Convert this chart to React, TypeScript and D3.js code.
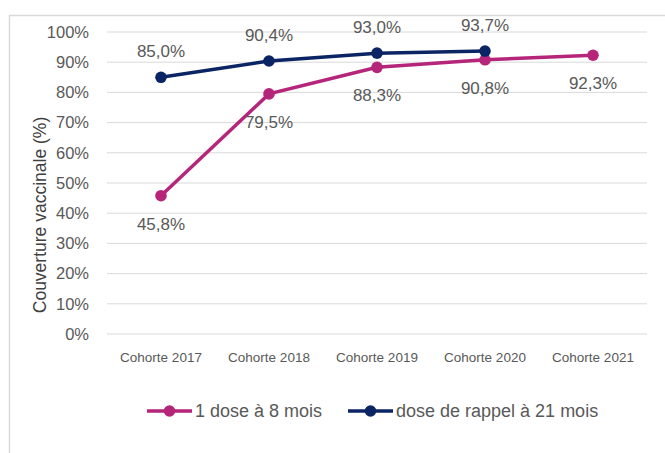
import React from 'react';
import * as d3 from 'd3';

const categories = ['Cohorte 2017', 'Cohorte 2018', 'Cohorte 2019', 'Cohorte 2020', 'Cohorte 2021'];
const doseHuitMois = [45.8, 79.5, 88.3, 90.8, 92.3];
const rappelVingtEtUnMois = [85.0, 90.4, 93.0, 93.7, null];
const yTicks = [0, 10, 20, 30, 40, 50, 60, 70, 80, 90, 100];

const PINK = '#b5257a';
const NAVY = '#0b2463';
const TEXT = '#595959';
const FONT = '"Liberation Sans", Arial, sans-serif';

const fmt = (v: number) => v.toFixed(1).replace('.', ',') + '%';

const App = () => {
    const width = 665;
    const height = 453;
    const margin = { top: 32, right: 18, bottom: 119, left: 107 };
    const innerW = width - margin.left - margin.right;
    const innerH = height - margin.top - margin.bottom;

    const x = d3.scalePoint<string>().domain(categories).range([0, innerW]).padding(0.5);
    const y = d3.scaleLinear().domain([0, 100]).range([innerH, 0]);

    const series = [
        { name: '1 dose à 8 mois', color: PINK, values: doseHuitMois, labelDy: 34, legendX: 0 },
        { name: 'dose de rappel à 21 mois', color: NAVY, values: rappelVingtEtUnMois, labelDy: -20, legendX: 201 },
    ];

    const line = d3.line<[string, number | null]>()
        .defined(d => d[1] != null)
        .x(d => x(d[0]) as number)
        .y(d => y(d[1] as number));

    return (
        <svg width={width} height={height} style={{ position: 'absolute', left: 0, top: 0, background: '#fff' }}
            fontFamily={FONT}>
            <path d={`M9.5,${height} V15.5 H${width}`} fill="none" stroke="#d9d9d9" strokeWidth={1.5} />
            <g transform={`translate(${margin.left},${margin.top})`}>
                {yTicks.map(t => (
                    <g key={t}>
                        <line x1={0} x2={innerW} y1={y(t)} y2={y(t)} stroke="#d9d9d9" strokeWidth={1} />
                        <text x={-18} y={y(t)} dy="0.35em" textAnchor="end" fontSize={16.5} fill={TEXT}>{t}%</text>
                    </g>
                ))}
                {categories.map(c => (
                    <text key={c} x={x(c)} y={innerH + 28} textAnchor="middle" fontSize={13.5} fill={TEXT}>{c}</text>
                ))}
                <text transform={`translate(-61,${183}) rotate(-90)`} textAnchor="middle" fontSize={17.5}
                    fill="#404040">Couverture vaccinale (%)</text>
                {series.map(s => {
                    const pts = categories.map((c, i) => [c, s.values[i]] as [string, number | null]);
                    return (
                        <g key={s.name}>
                            <path d={line(pts) || ''} fill="none" stroke={s.color} strokeWidth={3.5} />
                            {pts.filter(p => p[1] != null).map(p => (
                                <g key={p[0]}>
                                    <circle cx={x(p[0])} cy={y(p[1] as number)} r={5.8} fill={s.color} />
                                    <text x={x(p[0])} y={y(p[1] as number) + s.labelDy} textAnchor="middle"
                                        fontSize={17} fill={TEXT}>{fmt(p[1] as number)}</text>
                                </g>
                            ))}
                        </g>
                    );
                })}
            </g>
            <g transform="translate(147,411)">
                {series.map(s => (
                    <g key={s.name} transform={`translate(${s.legendX},0)`}>
                        <line x1={0} x2={45} y1={0} y2={0} stroke={s.color} strokeWidth={3.5} />
                        <circle cx={22.5} cy={0} r={5.8} fill={s.color} />
                        <text x={48} y={0} dy="0.35em" fontSize={18} fill={TEXT}>{s.name}</text>
                    </g>
                ))}
            </g>
        </svg>
    );
};

export default App;
